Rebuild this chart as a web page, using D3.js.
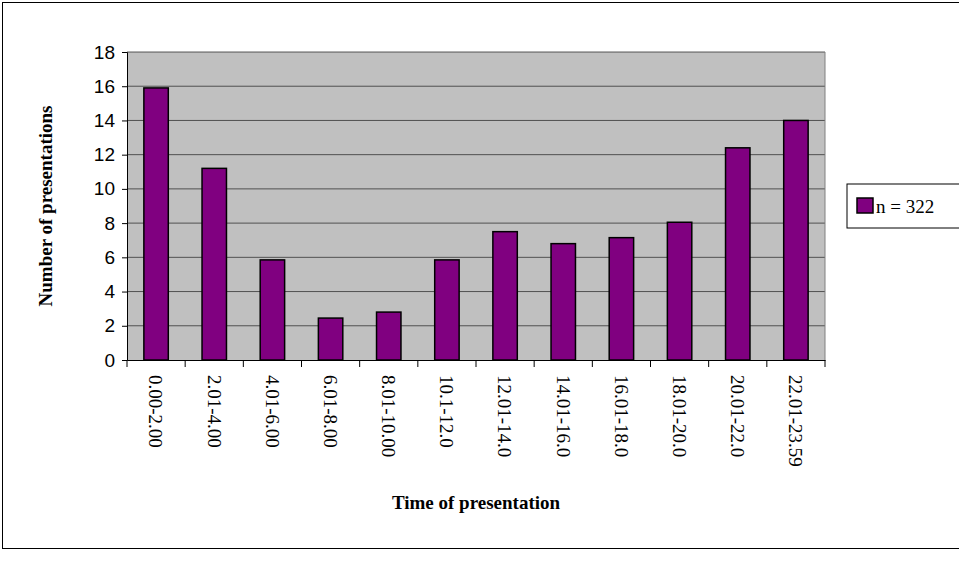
<!DOCTYPE html>
<html><head><meta charset="utf-8">
<script src="https://cdn.jsdelivr.net/npm/d3@7"></script>
<style>body{margin:0;background:#fff}</style>
</head><body>
<svg id="chart" width="959" height="563"></svg>
<script>
// chart data
const categories = ["0.00-2.00","2.01-4.00","4.01-6.00","6.01-8.00","8.01-10.00","10.1-12.0",
  "12.01-14.0","14.01-16.0","16.01-18.0","18.01-20.0","20.01-22.0","22.01-23.59"];
const values = [15.9, 11.2, 5.85, 2.45, 2.8, 5.85, 7.5, 6.8, 7.15, 8.05, 12.4, 14.0];
const yTicks = [0, 2, 4, 6, 8, 10, 12, 14, 16, 18];
const seriesName = "n = 322";

const svg = d3.select("#chart");
const margin = {top: 52, left: 127, right: 134, bottom: 203};
const width = 959 - margin.left - margin.right;
const height = 563 - margin.top - margin.bottom;
const serif = "Liberation Serif, Times New Roman";

// outer border
svg.append("rect").attr("x", 2.5).attr("y", 2.5).attr("width", 970).attr("height", 546)
  .attr("fill", "none").attr("stroke", "#000");

const g = svg.append("g").attr("transform", `translate(${margin.left},${margin.top})`);

const x = d3.scaleBand().domain(categories).range([0, width]);
const y = d3.scaleLinear().domain([0, 18]).range([height, 0]);

g.append("rect").attr("width", width).attr("height", height).attr("fill", "#c0c0c0");

// gridlines
g.selectAll(".grid").data(yTicks.slice(1)).enter().append("line")
  .attr("x1", 0).attr("x2", width)
  .attr("y1", d => y(d)).attr("y2", d => y(d))
  .attr("stroke", "#333").attr("stroke-width", 0.8);
g.append("line").attr("x1", width).attr("x2", width).attr("y1", 0).attr("y2", height)
  .attr("stroke", "#808080");

// bars
g.selectAll(".bar").data(values).enter().append("rect")
  .attr("class", "bar")
  .attr("x", (d, i) => x(categories[i]) + x.bandwidth() * 0.29)
  .attr("width", x.bandwidth() * 0.42)
  .attr("y", d => y(d))
  .attr("height", d => height - y(d))
  .attr("fill", "#800080").attr("stroke", "#000").attr("stroke-width", 1.5);

// y axis
const yAxis = g.append("g").call(d3.axisLeft(y).tickValues(yTicks).tickSize(5).tickPadding(7));
yAxis.selectAll("text").attr("font-family", "Liberation Sans, Arial").attr("font-size", 19).attr("fill", "#000");
yAxis.select(".domain").attr("stroke", "#000");

// x axis
const xAxis = g.append("g").attr("transform", `translate(0,${height})`)
  .call(d3.axisBottom(x).tickSize(0));
xAxis.select(".domain").attr("stroke", "#000");
xAxis.selectAll(".tick text")
  .attr("font-family", serif).attr("font-size", 19).attr("fill", "#000")
  .attr("transform", "rotate(90)").attr("text-anchor", "start")
  .attr("x", 15).attr("y", 0).attr("dy", "0.35em");
g.selectAll(".xt").data(d3.range(categories.length + 1)).enter().append("line")
  .attr("x1", i => i * x.step()).attr("x2", i => i * x.step())
  .attr("y1", height).attr("y2", height + 7).attr("stroke", "#000");

// axis titles
svg.append("text").attr("x", margin.left + width / 2).attr("y", 509)
  .attr("text-anchor", "middle").attr("font-family", serif)
  .attr("font-weight", "bold").attr("font-size", 19).text("Time of presentation");
svg.append("text").attr("transform", `translate(52,${margin.top + height / 2}) rotate(-90)`)
  .attr("text-anchor", "middle").attr("font-family", serif)
  .attr("font-weight", "bold").attr("font-size", 19).text("Number of presentations");

// legend
const lg = svg.append("g").attr("transform", "translate(847,184)");
lg.append("rect").attr("width", 130).attr("height", 44).attr("fill", "#fff").attr("stroke", "#000");
lg.append("rect").attr("x", 10).attr("y", 14).attr("width", 16).attr("height", 15)
  .attr("fill", "#800080").attr("stroke", "#000").attr("stroke-width", 1.5);
lg.append("text").attr("x", 29).attr("y", 29).attr("font-family", serif)
  .attr("font-size", 19).text(seriesName);
</script>
</body></html>
